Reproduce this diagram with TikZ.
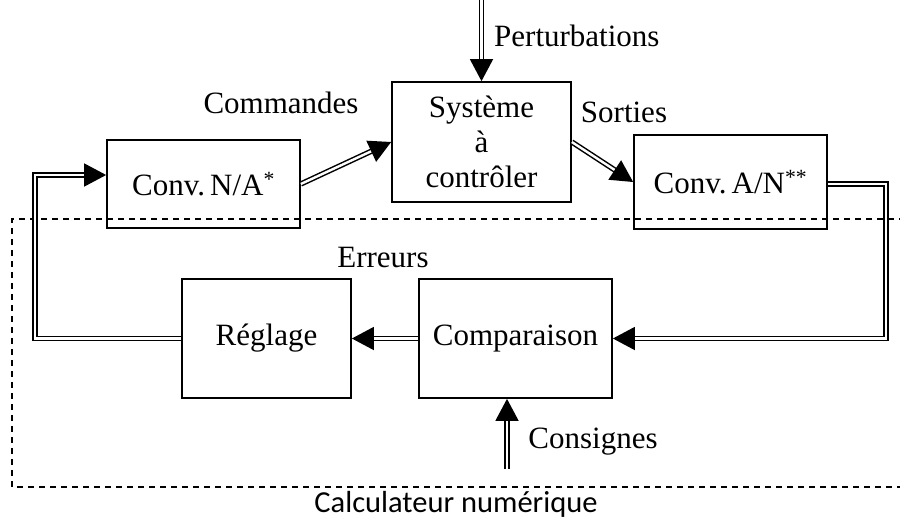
\documentclass[tikz,border=0pt]{standalone}
\usepackage{fontspec}
\setmainfont{Liberation Serif}
\newfontfamily\calfont{Carlito}
\usetikzlibrary{arrows.meta,calc}
\begin{document}
\begin{tikzpicture}[x=1pt,y=-1pt,
  blk/.style={draw,line width=1.7pt,inner sep=0pt,align=center,font=\fontsize{31}{35}\selectfont},
  lbl/.style={inner sep=0pt,font=\fontsize{31}{35}\selectfont},
  dbl/.style={draw,line width=1.5pt,double,double distance=2.4pt,-{Triangle[length=22pt,width=23pt]}},
  frame/.style={line width=1.7pt,dash pattern=on 6pt off 5pt}]
\useasboundingbox (0,0) rectangle (900,519);
% boxes
\node[blk,minimum width=193pt,minimum height=88pt] (cna) at (203.5,184) {Conv.\,N/A\textsuperscript{*}};
\node[blk,minimum width=179pt,minimum height=120pt] (sys) at (481.5,142) {Système\\à\\contrôler};
\node[blk,minimum width=193pt,minimum height=94pt] (can) at (730.5,182) {Conv.\,A/N\textsuperscript{**}};
\node[blk,minimum width=169pt,minimum height=119pt] (reg) at (266.5,338.5) {Réglage};
\node[blk,minimum width=193pt,minimum height=119pt] (comp) at (515.5,338.5) {Comparaison};
% dashed frame
\draw[frame] (905,219) -- (12,219) -- (12,487) -- (905,487);
% labels
\node[lbl] (lcom) at (281,103) {Commandes};
\node[lbl,anchor=west] (lper) at (494,36) {Perturbations};
\node[lbl] (lsor) at (624,112) {Sorties};
\node[lbl] (lerr) at (383,258) {Erreurs};
\node[lbl] (lcon) at (593,442) {Consignes};
\node[inner sep=0pt,font=\calfont\fontsize{30.5}{35}\selectfont] (lcal) at (456,504) {Calculateur numérique};
% coordinates
\coordinate (pt) at (481.5,0);
\coordinate (cs) at (507,469);
\coordinate (rc) at (886,0);
\coordinate (lc) at (35,0);
% connectors
\draw[dbl] (pt) -- (sys.north);
\draw[dbl] (cna.east) -- (sys.west);
\draw[dbl] (sys.east) -- (can.west);
\draw[dbl] ([yshift=-2pt]can.east) -| (rc |- comp.east) -- (comp.east);
\draw[dbl] (comp.west) -- (reg.east);
\draw[dbl] (cs) -- (cs |- comp.south);
\draw[dbl] (reg.west) -| (lc |- cna.west) |- ([yshift=9pt]cna.west);
\end{tikzpicture}
\end{document}
